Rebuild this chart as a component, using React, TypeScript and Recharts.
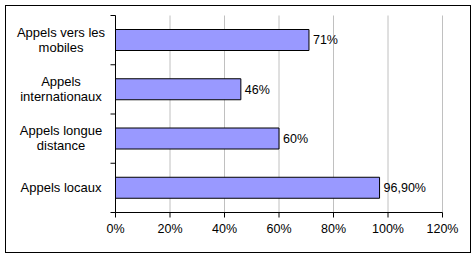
import { BarChart, Bar, XAxis, YAxis, CartesianGrid, LabelList } from 'recharts'

const categories = ['Appels vers les\nmobiles', 'Appels\ninternationaux', 'Appels longue\ndistance', 'Appels locaux']
const values = [0.71, 0.46, 0.6, 0.969]
const valueLabels = ['71%', '46%', '60%', '96,90%']
const xTicks = [0, 0.2, 0.4, 0.6, 0.8, 1, 1.2]

const data = categories.map((c, i) => ({ name: c, value: values[i], label: valueLabels[i] }))

const FONT = '"Liberation Sans", Arial, sans-serif'

// category labels centred in their band, tick marks on the band edges (Excel style)
const CategoryTick = (props: any) => {
  const { x, y, payload, index, visibleTicksCount, height } = props
  const half = payload.offset ?? height / visibleTicksCount / 2
  const lines = String(payload.value).split('\n')
  const firstDy = lines.length > 1 ? -3.5 : 4.5
  const cx = x - 54.5
  return (
    <g>
      <line x1={x - 5} x2={x} y1={y - half} y2={y - half} stroke="#000" />
      {index === visibleTicksCount - 1 && (
        <line x1={x - 5} x2={x} y1={y + half} y2={y + half} stroke="#000" />
      )}
      <text x={cx} y={y + firstDy} textAnchor="middle" fontSize={13} fontFamily={FONT} fill="#000">
        {lines.map((l, i) => (
          <tspan key={i} x={cx} dy={i === 0 ? 0 : 15}>{l}</tspan>
        ))}
      </text>
    </g>
  )
}

export default function App() {
  return (
    <div style={{ position: 'absolute', left: 0, top: 0, width: 476, height: 259, background: '#fff' }}>
      <div
        style={{
          position: 'absolute', left: 5, top: 5, width: 466, height: 248,
          border: '1px solid #000', boxSizing: 'border-box',
        }}
      />
      <div style={{ position: 'absolute', left: 0, top: 0 }}>
        <BarChart
          width={476}
          height={259}
          data={data}
          layout="vertical"
          margin={{ top: 15.5, right: 33.5, bottom: 16.5, left: 5 }}
          barSize={21}
        >
          <CartesianGrid horizontal={false} stroke="#c0c0c0" strokeWidth={1} />
          <XAxis
            type="number"
            domain={[0, 1.2]}
            ticks={xTicks}
            interval={0}
            tickFormatter={(v) => `${Math.round(v * 100)}%`}
            tick={{ fill: '#000', fontSize: 12.5, fontFamily: FONT }}
            tickLine={{ stroke: '#000' }}
            axisLine={{ stroke: '#000' }}
            tickSize={5}
            tickMargin={7}
            height={30}
          />
          {/* grey top edge of the plot area */}
          <XAxis
            xAxisId="top"
            orientation="top"
            type="number"
            domain={[0, 1.2]}
            tick={false}
            tickLine={false}
            axisLine={{ stroke: '#c0c0c0' }}
            height={0}
          />
          <YAxis
            type="category"
            dataKey="name"
            width={110.5}
            tick={<CategoryTick />}
            tickLine={false}
            tickSize={0}
            tickMargin={0}
            interval={0}
            axisLine={{ stroke: '#000' }}
          />
          <Bar dataKey="value" fill="#9999ff" stroke="#000" strokeWidth={1} isAnimationActive={false}>
            <LabelList
              dataKey="label"
              position="right"
              offset={4}
              fill="#000"
              fontSize={12.5}
              fontFamily={FONT}
            />
          </Bar>
        </BarChart>
      </div>
    </div>
  )
}
